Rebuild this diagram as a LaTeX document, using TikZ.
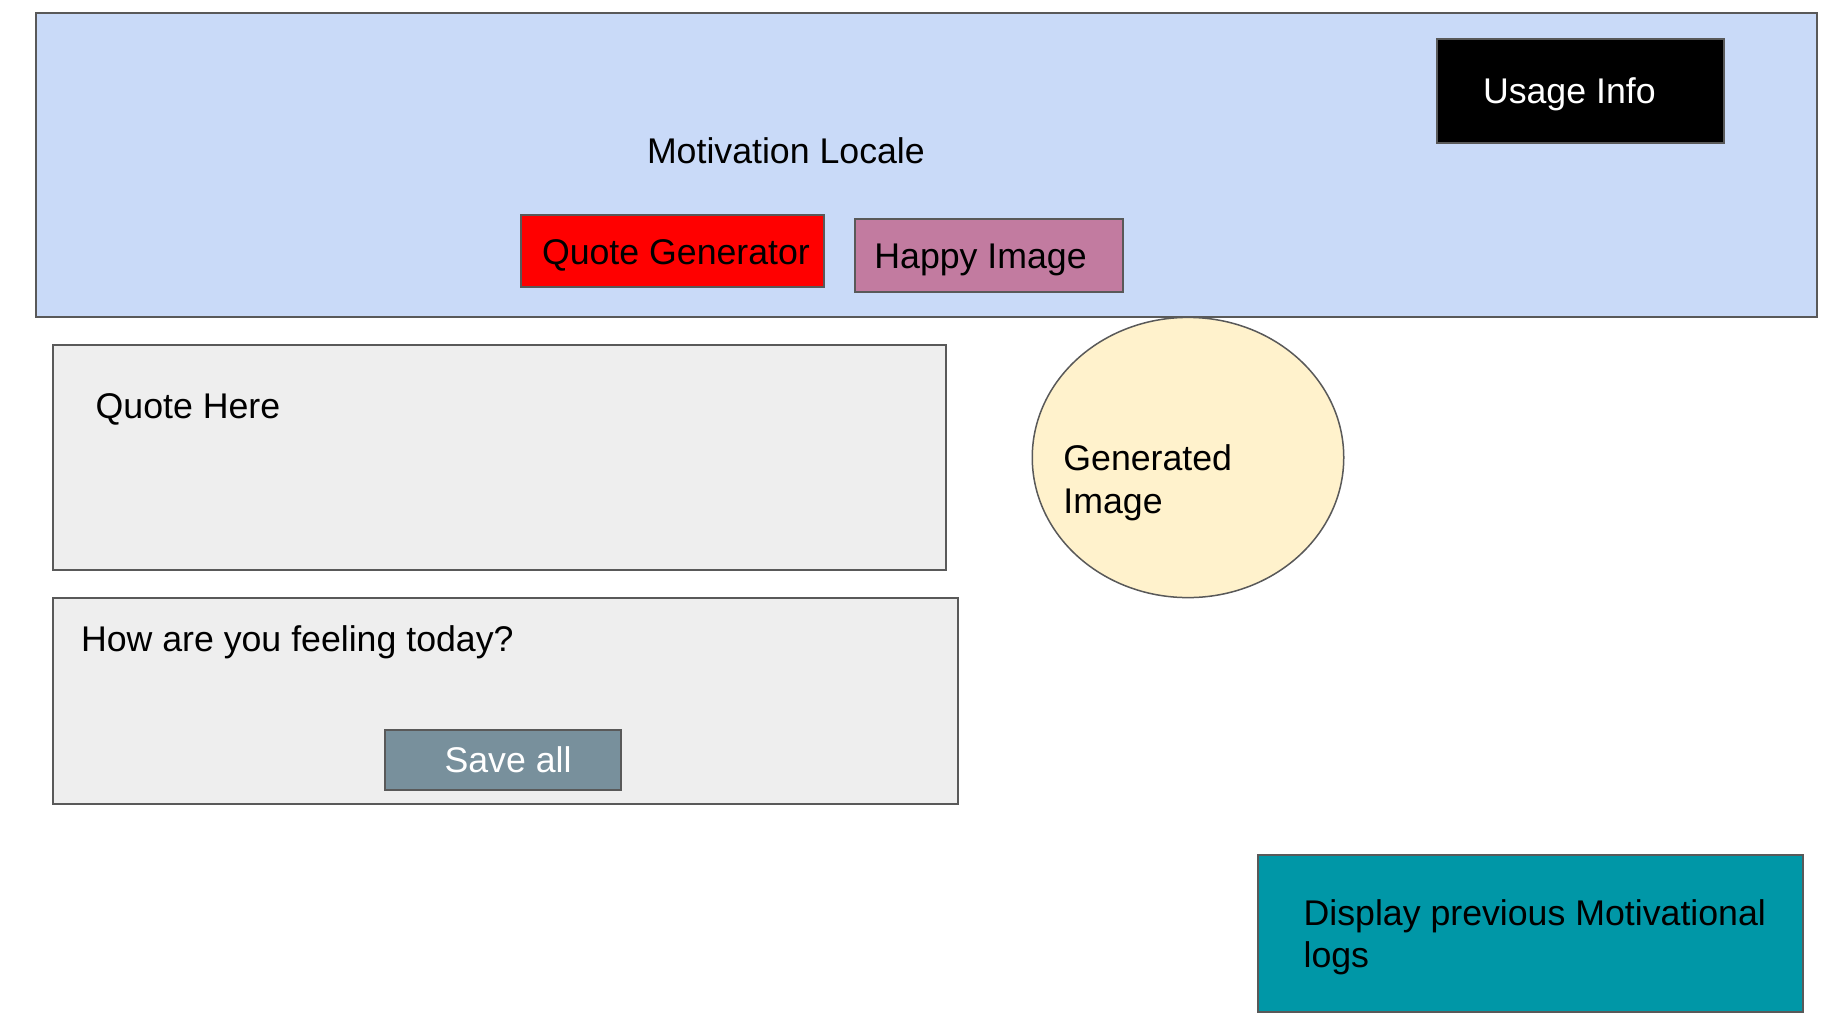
\documentclass[tikz,border=0pt]{standalone}
\usepackage{fontspec}
\setmainfont{Liberation Sans}
\usetikzlibrary{shapes.geometric}
\definecolor{bgblue}{HTML}{C9DAF8}
\definecolor{edgegray}{HTML}{595959}
\definecolor{mauve}{HTML}{C27BA0}
\definecolor{panelgray}{HTML}{EEEEEE}
\definecolor{savegray}{HTML}{78909C}
\definecolor{cream}{HTML}{FFF2CC}
\definecolor{teal}{HTML}{0097A7}
\tikzset{
  box/.style={draw=edgegray, line width=2pt, rectangle, inner sep=0pt, outer sep=0pt},
  txt/.style={anchor=base west, inner sep=0pt, outer sep=0pt, font=\fontsize{35.7}{43.5}\selectfont},
}
\begin{document}
\begin{tikzpicture}[x=1pt,y=-1pt]
\useasboundingbox[fill=white] (0,0) rectangle (1828,1018);
% header panel
\node[box, fill=bgblue, minimum width=1781pt, minimum height=304pt] (header) at (926.5,164.7) {};
\node[box, fill=black, minimum width=286.5pt, minimum height=104.6pt] (usage) at (1580.7,91) {};
\node[box, fill=red, minimum width=303.2pt, minimum height=72pt] (qgen) at (672.1,251) {};
\node[box, fill=mauve, minimum width=268.1pt, minimum height=72.7pt] (happy) at (988.6,255.3) {};
\node[txt] (title) at (647,163.3) {Motivation Locale};
\node[txt, text=white] (usagetxt) at (1483,103.3) {Usage Info};
\node[txt] (qgentxt) at (542,264) {Quote Generator};
\node[txt] (happytxt) at (874.4,268) {Happy Image};
% quote panel
\node[box, fill=panelgray, minimum width=892.8pt, minimum height=225pt] (quote) at (499.4,457.2) {};
\node[txt] (quotetxt) at (95.7,418.3) {Quote Here};
% feeling panel
\node[box, fill=panelgray, minimum width=905pt, minimum height=206pt] (feel) at (505.5,700.7) {};
\node[txt] (feeltxt) at (81,651) {How are you feeling today?};
\node[box, fill=savegray, minimum width=235.9pt, minimum height=60.3pt] (save) at (502.6,759.9) {};
\node[txt, text=white] (savetxt) at (444.5,772.3) {Save all};
% generated image
\node[draw=edgegray, line width=1.5pt, ellipse, fill=cream, minimum width=311.5pt, minimum height=280.2pt, inner sep=0pt] (gen) at (1188,457.5) {};
\node[txt] (gentxt1) at (1063.4,470.3) {Generated};
\node[txt] (gentxt2) at (1063.4,513.8) {Image};
% logs
\node[box, fill=teal, minimum width=544.8pt, minimum height=156.6pt] (logs) at (1530.1,933.7) {};
\node[txt] (logstxt1) at (1303.6,925) {Display previous Motivational};
\node[txt] (logstxt2) at (1303.6,967) {logs};
\end{tikzpicture}
\end{document}
